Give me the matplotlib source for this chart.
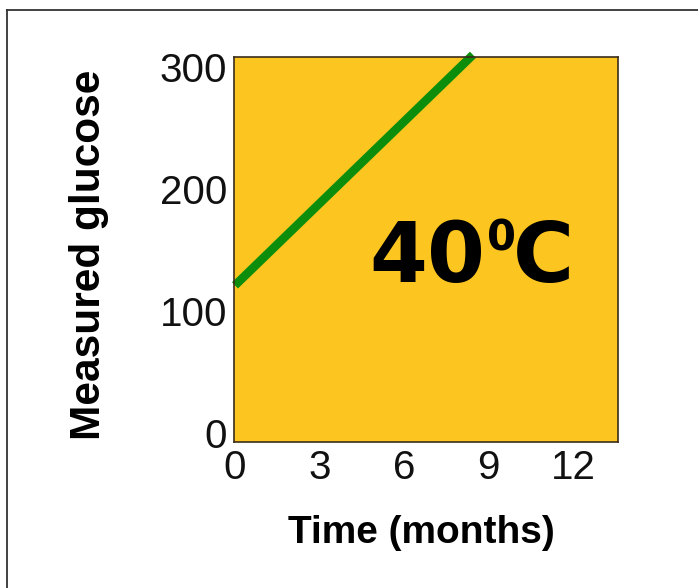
import matplotlib
matplotlib.use("Agg")
import matplotlib.pyplot as plt
from matplotlib.lines import Line2D

# data
months = [0, 8.45]
glucose = [121, 310]
xticks = [0, 3, 6, 9, 12]
yticks = [0, 100, 200, 300]
temp_num, temp_deg, temp_unit = "40", "0", "C"

W, H = 698, 588
fig = plt.figure(figsize=(W / 100, H / 100), dpi=100)
fig.patch.set_facecolor("white")

# axes box in pixels: left 234, right 618, top 57, bottom 442
ax = fig.add_axes([234 / W, 1 - 442 / H, 384 / W, 385 / H])
ax.set_facecolor("#FCC51F")
for s in ax.spines.values():
    s.set_color("#3b2c1c")
    s.set_linewidth(1.2)

ax.plot(months, glucose, color="#0C8E0C", lw=6.2, solid_capstyle="butt", clip_on=False)

ax.set_xlim(-0.035, 13.6)
ax.set_ylim(-7.4, 308.2)
ax.set_xticks(xticks)
ax.set_yticks(yticks)
ax.tick_params(length=0, labelsize=29, colors="#111111")
ax.tick_params(axis="x", pad=5)
ax.tick_params(axis="y", pad=5)
for lab in ax.get_xticklabels() + ax.get_yticklabels():
    lab.set_family("Liberation Sans")

# "40" + small raised "0" + "C"
big = dict(transform=ax.transAxes, fontsize=60, fontweight="bold", family="DejaVu Sans",
           color="black", va="baseline")
ax.text(0.654, 0.4156, temp_num, ha="right", **big)
ax.text(0.7266, 0.4156, temp_unit, ha="left", **big)
ax.text(0.658, 0.4987, temp_deg, transform=ax.transAxes, ha="left", va="baseline",
        fontsize=30, fontweight="bold", family="DejaVu Sans", color="black")

fig.text(421 / W, 1 - 533 / H, "Time (months)", ha="center", va="center",
         fontsize=28, fontweight="bold", family="Liberation Sans")
fig.text(89 / W, 1 - 255 / H, "Measured glucose", ha="center", va="center",
         rotation=90, fontsize=30.5, fontweight="bold", family="Liberation Sans")

# thin frame along top and left edges
fig.add_artist(Line2D([7 / W, 1], [1 - 10 / H, 1 - 10 / H], transform=fig.transFigure,
                      color="#333333", lw=1.3))
fig.add_artist(Line2D([7 / W, 7 / W], [0, 1 - 10 / H], transform=fig.transFigure,
                      color="#333333", lw=1.3))

fig.savefig("out.png", dpi=100)
